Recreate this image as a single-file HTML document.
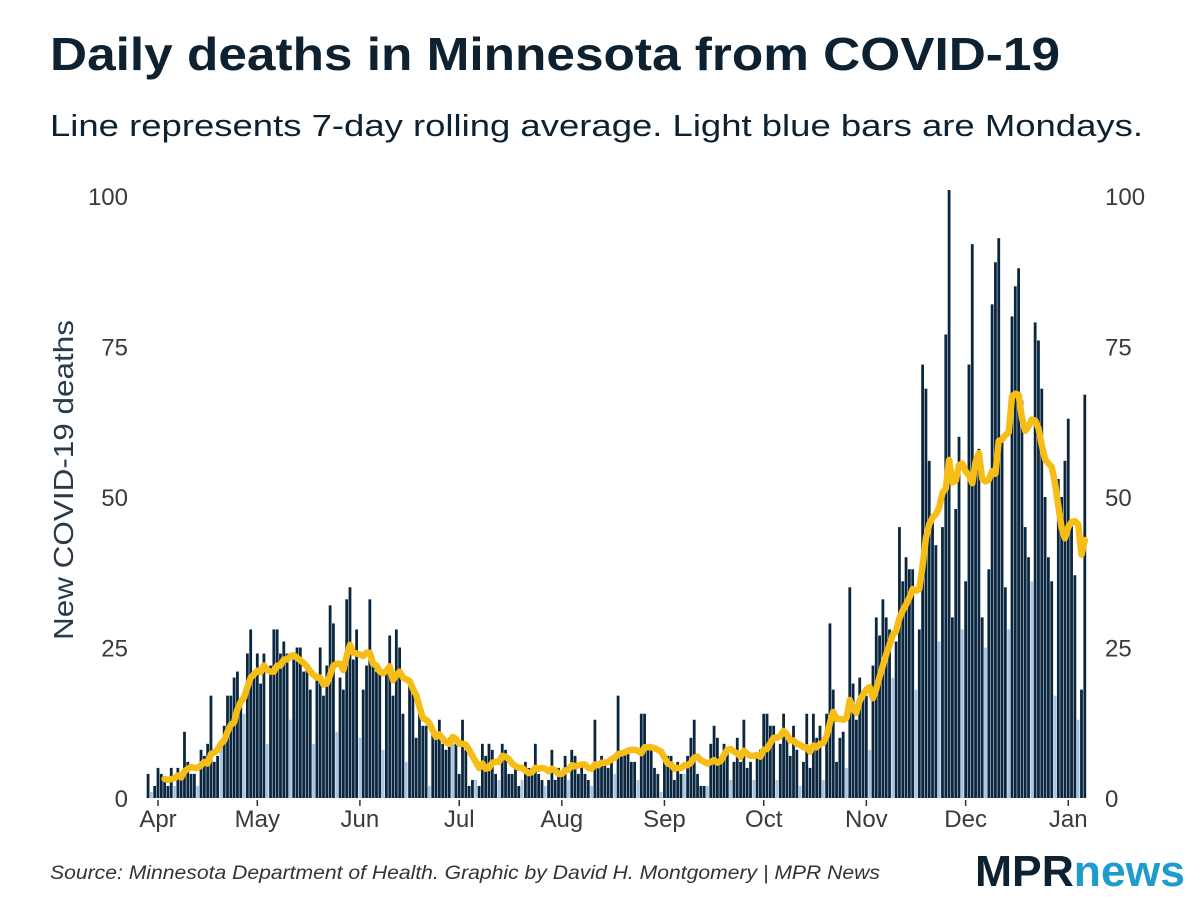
<!DOCTYPE html>
<html><head><meta charset="utf-8"><style>
html,body{margin:0;padding:0;background:#fff;}
body{width:1200px;height:900px;overflow:hidden;font-family:"Liberation Sans",sans-serif;}
svg{display:block}
</style></head><body>
<svg id="chart" width="1200" height="900">
<text x="50" y="70" font-size="46" font-weight="bold" fill="#0d2130" textLength="1010" lengthAdjust="spacingAndGlyphs">Daily deaths in Minnesota from COVID-19</text>
<text x="50" y="136" font-size="31" fill="#0d2130" textLength="1093" lengthAdjust="spacingAndGlyphs">Line represents 7-day rolling average. Light blue bars are Mondays.</text>
<text transform="translate(73,480) rotate(-90)" text-anchor="middle" font-size="28" fill="#2a3a48" textLength="320" lengthAdjust="spacingAndGlyphs">New COVID-19 deaths</text>
<g id="yticks"></g>
<g id="bars"></g>
<path id="avgline" fill="none" stroke="#f6bd16" stroke-width="6.5" stroke-linejoin="round" stroke-linecap="round"></path>
<g id="xticks"></g>
<text x="50" y="879" font-size="19" font-style="italic" fill="#333" textLength="830" lengthAdjust="spacingAndGlyphs">Source: Minnesota Department of Health. Graphic by David H. Montgomery | MPR News</text>
<text x="975" y="886" font-size="44" font-weight="bold" textLength="210" lengthAdjust="spacingAndGlyphs"><tspan fill="#0d2130">MPR</tspan><tspan fill="#1d9ccd">news</tspan></text>
</svg>
<script>
// Daily deaths starting Mar 29, 2020 (Mar 30 is Monday)
const deaths = [
4,1,2,5,4,3,2,5,
2,5,3,11,6,4,4,
2,8,7,9,17,6,7,
9,12,17,17,20,21,16,
14,24,28,21,24,19,24,
9,22,28,28,24,26,24,
13,23,25,25,21,22,18,
9,20,25,17,22,32,29,
11,20,18,33,35,23,28,
10,18,22,33,22,21,21,
8,21,27,17,28,25,14,
6,19,18,10,14,12,12,
2,11,10,13,9,8,10,
10,9,4,13,8,2,3,
3,2,9,7,9,8,4,
3,9,8,4,4,5,2,
3,6,5,5,9,4,3,
2,3,8,3,5,4,7,
3,8,7,4,6,4,3,
2,13,6,7,6,5,6,
4,17,7,8,8,6,6,
3,14,14,8,8,5,4,
1,7,7,7,3,6,4,
4,7,10,13,4,2,2,
2,9,12,10,6,9,8,
3,6,10,6,13,5,6,
3,7,8,14,14,12,12,
3,9,14,10,7,12,8,
2,6,14,5,14,10,12,
3,14,29,18,6,10,11,
5,35,19,13,20,17,17,
8,22,30,27,33,30,28,
20,26,45,36,40,38,38,
18,28,72,68,56,46,42,
26,45,77,101,30,48,60,
28,36,72,92,55,58,30,
25,38,82,89,93,60,35,
28,80,85,88,66,45,40,
36,79,76,68,50,40,36,
17,53,50,56,63,46,37,
13,18,67
];
const yTicks = [0,25,50,75,100];
const monthLabels = ["Apr","May","Jun","Jul","Aug","Sep","Oct","Nov","Dec","Jan"];
const monthStartIdx = [3,33,64,94,125,156,186,217,247,278];

const NS="http://www.w3.org/2000/svg";
const x0=158, dx=3.31, y0=798, ky=6.02;
const xs = i => x0 + (i-3)*dx;
const ys = v => y0 - v*ky;
function mk(tag,attrs,parent){const e=document.createElementNS(NS,tag);for(const k in attrs)e.setAttribute(k,attrs[k]);parent.appendChild(e);return e;}

const yg=document.getElementById('yticks');
yTicks.forEach(t=>{
  const l=mk('text',{x:128,y:ys(t)+9,'text-anchor':'end','font-size':24,fill:'#3a3a3a'},yg);
  l.textContent=t;
  
  
  const r=mk('text',{x:1105,y:ys(t)+9,'font-size':24,fill:'#3a3a3a'},yg);
  r.textContent=t;
  
  
});

const bg=document.getElementById('bars');
deaths.forEach((v,i)=>{
  const mon=(i%7)===1;
  const b=mk('rect',{x:xs(i)-1.4,y:ys(v),width:2.8,height:v*ky,fill:mon?'#a9c5df':'#0b2740'},bg);
  
  
});

let d='';
for(let i=5;i<deaths.length;i++){
  const s=deaths.slice(Math.max(0,i-6),i+1);
  const a=s.reduce((p,c)=>p+c,0)/s.length;
  d+=(d?'L':'M')+xs(i).toFixed(1)+','+ys(a).toFixed(1);
}
document.getElementById('avgline').setAttribute('d',d);

const xg=document.getElementById('xticks');
monthLabels.forEach((m,k)=>{
  const x=xs(monthStartIdx[k]);
  const t=mk('line',{x1:x,x2:x,y1:800,y2:806,stroke:'#333','stroke-width':1.5},xg);
  
  
  const l=mk('text',{x:x,y:827,'text-anchor':'middle','font-size':24,fill:'#3a3a3a'},xg);
  l.textContent=m;
  
  
});
</script>
</body></html>
